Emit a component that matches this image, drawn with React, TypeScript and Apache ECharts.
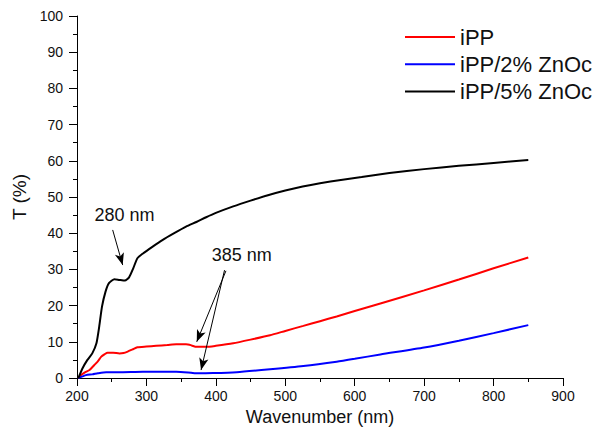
import React, { useEffect, useRef } from "react";
import * as echarts from "echarts";

const wlBlack = [202, 208, 215, 222, 228, 232, 236, 241, 246, 254, 261, 269, 275, 281, 287, 295, 309, 323, 340, 357, 372, 386, 400, 425, 450, 475, 500, 525, 550, 580, 610, 650, 700, 750, 800, 850];
const tBlack = [0, 2.7, 5.0, 6.8, 9.6, 14.2, 19.7, 23.8, 26.2, 27.3, 27.1, 26.9, 27.8, 30.3, 33.1, 34.4, 36.3, 38.1, 40.0, 41.8, 43.1, 44.4, 45.6, 47.4, 49.0, 50.5, 51.8, 52.9, 53.8, 54.7, 55.5, 56.6, 57.7, 58.6, 59.4, 60.2];

const wlRed = [202, 206, 212, 218, 225, 230, 235, 240, 244, 252, 261, 267, 273, 280, 287, 300, 314, 330, 343, 357, 365, 372, 386, 400, 425, 450, 478, 500, 526, 550, 574, 600, 637, 700, 750, 800, 850];
const tRed = [0, 0.8, 1.6, 2.2, 3.6, 4.6, 5.9, 6.6, 7.0, 7.0, 6.8, 6.9, 7.3, 7.9, 8.5, 8.7, 8.9, 9.1, 9.3, 9.3, 9.0, 8.6, 8.6, 8.9, 9.6, 10.6, 11.8, 13.0, 14.4, 15.7, 17.0, 18.5, 20.6, 24.2, 27.2, 30.3, 33.3];

const wlBlue = [202, 213, 222, 230, 242, 260, 295, 343, 360, 372, 396, 430, 478, 526, 574, 600, 637, 700, 750, 800, 850];
const tBlue = [0, 0.8, 1.0, 1.3, 1.6, 1.6, 1.75, 1.75, 1.55, 1.3, 1.35, 1.6, 2.4, 3.3, 4.5, 5.3, 6.5, 8.4, 10.3, 12.4, 14.6];

const seriesNames = ["iPP", "iPP/2% ZnOc", "iPP/5% ZnOc"];
const seriesColors = ["#ff0000", "#0000ff", "#000000"];

const annotationTexts = ["280 nm", "385 nm"];
const annotationAt = [[268.4, 45.0], [437.3, 34.0]];
const arrows = [
  [[251.4, 40.9], [265.8, 31.2]],
  [[414.5, 29.6], [372.5, 10.0]],
  [[412.5, 29.8], [378.7, 2.2]],
];

const xTicks = [200, 900, 100];
const yTicks = [0, 100, 10];

const FONT = "'Liberation Sans', Arial, sans-serif";

const zip = (xs: number[], ys: number[]) => xs.map((x, i) => [x, ys[i]]);

export default function App() {
  const ref = useRef<HTMLDivElement>(null);
  useEffect(() => {
    if (!ref.current) return;
    const chart = echarts.init(ref.current, undefined, { renderer: "svg" });
    const datasets = [zip(wlRed, tRed), zip(wlBlue, tBlue), zip(wlBlack, tBlack)];
    const axisCommon = {
      axisLine: { show: true, lineStyle: { color: "#000", width: 1 } },
      axisTick: { show: true, inside: false, length: 8, lineStyle: { color: "#000" } },
      minorTick: { show: true, splitNumber: 2, length: 4, lineStyle: { color: "#000" } },
      splitLine: { show: false },
      nameLocation: "middle" as const,
    };
    chart.setOption({
      animation: false,
      backgroundColor: "#fff",
      grid: { left: 77, right: 37, top: 16, bottom: 56 },
      legend: {
        orient: "vertical",
        left: 405,
        top: 26,
        padding: 0,
        icon: "rect",
        itemWidth: 50,
        itemHeight: 2,
        itemGap: 5.3,
        data: seriesNames,
        textStyle: { fontFamily: FONT, fontSize: 22, color: "#111", lineHeight: 22 },
      },
      xAxis: {
        type: "value",
        min: xTicks[0],
        max: xTicks[1],
        interval: xTicks[2],
        name: "Wavenumber (nm)",
        nameGap: 25,
        nameTextStyle: { fontFamily: FONT, fontSize: 18, color: "#111" },
        ...axisCommon,
        axisLabel: { fontFamily: FONT, fontSize: 14, color: "#111", margin: 11 },
      },
      yAxis: {
        type: "value",
        min: yTicks[0],
        max: yTicks[1],
        interval: yTicks[2],
        name: "T (%)",
        nameGap: 48,
        nameTextStyle: { fontFamily: FONT, fontSize: 19, color: "#111" },
        ...axisCommon,
        axisLabel: { fontFamily: FONT, fontSize: 14, color: "#111", margin: 14 },
      },
      series: seriesNames.map((name, i) => ({
        name,
        type: "line",
        data: datasets[i],
        symbol: "none",
        smooth: 0.2,
        lineStyle: { color: seriesColors[i], width: 2 },
        itemStyle: { color: seriesColors[i] },
        ...(i === 2
          ? {
              markLine: {
                silent: true,
                animation: false,
                symbol: ["none", "arrow"],
                symbolSize: [7, 12],
                label: { show: false },
                lineStyle: { color: "#000", width: 1, type: "solid" },
                data: arrows.map((a) => [{ coord: a[0] }, { coord: a[1] }]),
              },
              markPoint: {
                silent: true,
                animation: false,
                symbol: "circle",
                symbolSize: 0,
                label: {
                  show: true,
                  position: "inside",
                  fontFamily: FONT,
                  fontSize: 18,
                  color: "#111",
                  formatter: (p: any) => p.name,
                },
                data: annotationTexts.map((t, k) => ({ name: t, coord: annotationAt[k] })),
              },
            }
          : {}),
      })),
    });
    return () => chart.dispose();
  }, []);
  return <div ref={ref} style={{ position: "fixed", left: 0, top: 0, width: 600, height: 434 }} />;
}
